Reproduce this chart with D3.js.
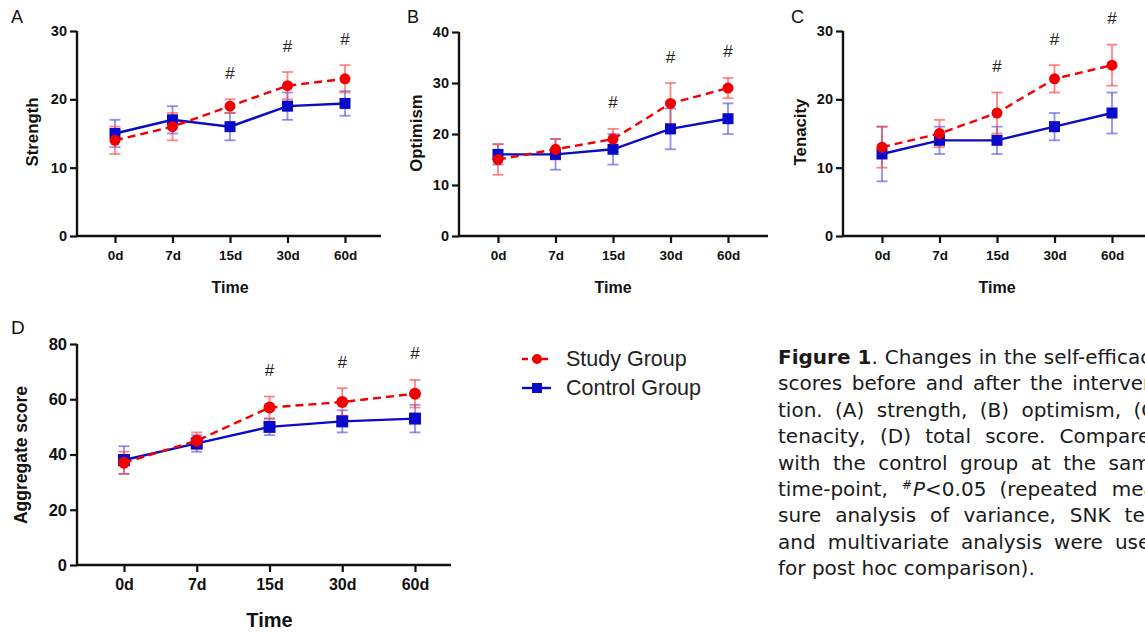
<!DOCTYPE html>
<html>
<head>
<meta charset="utf-8">
<script src="https://cdn.jsdelivr.net/npm/d3@7"></script>
<style>
  html, body { margin: 0; padding: 0; background: #fff; }
  svg { display: block; }
</style>
</head>
<body>
<svg id="chart" width="1145" height="632"></svg>
<script>
// ---------------- DATA ----------------
const times = ["0d", "7d", "15d", "30d", "60d"];
const seriesNames = ["Study Group", "Control Group"];

const strengthStudy = [14, 16, 19, 22, 23];
const strengthStudyErr = [2, 2, 1, 2, 2];
const strengthControl = [15, 17, 16, 19, 19.4];
const strengthControlErr = [2, 2, 2, 2, 1.8];

const optimismStudy = [15, 17, 19, 26, 29];
const optimismStudyErr = [3, 2, 2, 4, 2];
const optimismControl = [16, 16, 17, 21, 23];
const optimismControlErr = [2, 3, 3, 4, 3];

const tenacityStudy = [13, 15, 18, 23, 25];
const tenacityStudyErr = [3, 2, 3, 2, 3];
const tenacityControl = [12, 14, 14, 16, 18];
const tenacityControlErr = [4, 2, 2, 2, 3];

const aggregateStudy = [37, 45, 57, 59, 62];
const aggregateStudyErr = [4, 3, 4, 5, 5];
const aggregateControl = [38, 44, 50, 52, 53];
const aggregateControlErr = [5, 3, 3, 4, 5];

const significant = [false, false, true, true, true];

const ticksStrength = [0, 10, 20, 30];
const ticksOptimism = [0, 10, 20, 30, 40];
const ticksTenacity = [0, 10, 20, 30];
const ticksAggregate = [0, 20, 40, 60, 80];

const captionLines = [
  "Changes in the self-efficacy",
  "scores before and after the interven-",
  "tion. (A) strength, (B) optimism, (C)",
  "tenacity, (D) total score. Compared",
  "with the control group at the same",
  "time-point, #P<0.05 (repeated mea-",
  "sure analysis of variance, SNK test",
  "and multivariate analysis were used",
  "for post hoc comparison)."
];

// ---------------- STYLE / LAYOUT ----------------
const RED = "#f20000";
const BLUE = "#0a0ac8";
const RED_ERR = "rgba(255,70,70,0.65)";
const BLUE_ERR = "rgba(70,70,225,0.6)";
const FONT = "'Liberation Sans', Arial, sans-serif";
const CAP_FONT = "'DejaVu Sans', sans-serif";

const svg = d3.select("#chart");

const panels = [
  { letter: "A", title: "Strength", study: strengthStudy, studyErr: strengthStudyErr,
    control: strengthControl, controlErr: strengthControlErr, ticks: ticksStrength,
    ax: 77, x0: 115, x1: 345, xend: 381, top: 31, bottom: 236,
    letterX: 11, letterY: 23, titleX: 32, titleY: 132, big: false },
  { letter: "B", title: "Optimism", study: optimismStudy, studyErr: optimismStudyErr,
    control: optimismControl, controlErr: optimismControlErr, ticks: ticksOptimism,
    ax: 459, x0: 498, x1: 728, xend: 768, top: 32, bottom: 236,
    letterX: 407, letterY: 23, titleX: 416, titleY: 133, big: false },
  { letter: "C", title: "Tenacity", study: tenacityStudy, studyErr: tenacityStudyErr,
    control: tenacityControl, controlErr: tenacityControlErr, ticks: ticksTenacity,
    ax: 843, x0: 882, x1: 1112, xend: 1150, top: 31, bottom: 236,
    letterX: 791, letterY: 23, titleX: 800, titleY: 132, big: false },
  { letter: "D", title: "Aggregate score", study: aggregateStudy, studyErr: aggregateStudyErr,
    control: aggregateControl, controlErr: aggregateControlErr, ticks: ticksAggregate,
    ax: 77, x0: 124, x1: 415, xend: 451, top: 344, bottom: 565,
    letterX: 11, letterY: 334, titleX: 21, titleY: 455, big: true }
];

panels.forEach(p => {
  const g = svg.append("g");
  const x = d3.scalePoint().domain(times).range([p.x0, p.x1]);
  const y = d3.scaleLinear().domain([p.ticks[0], p.ticks[p.ticks.length - 1]]).range([p.bottom, p.top]);

  // panel letter
  g.append("text").attr("x", p.letterX).attr("y", p.letterY)
    .attr("font-family", FONT).attr("font-size", p.big ? 19 : 18).attr("fill", "#111")
    .text(p.letter);

  // y axis
  const ya = g.append("g").attr("transform", `translate(${p.ax},0)`)
    .call(d3.axisLeft(y).tickValues(p.ticks).tickSize(7).tickPadding(3).tickFormat(d3.format("d")));
  // x axis
  const xa = g.append("g").attr("transform", `translate(0,${p.bottom})`)
    .call(d3.axisBottom(x).tickSize(7).tickPadding(7));
  xa.select(".domain").attr("d", `M${p.ax},0H${p.xend}`);
  ya.select(".domain").attr("d", `M0,${p.bottom}V${p.top}`);
  [ya, xa].forEach(a => {
    a.select(".domain").attr("stroke", "#111").attr("stroke-width", 2.4);
    a.selectAll(".tick line").attr("stroke", "#111").attr("stroke-width", 2.2);
    a.selectAll(".tick text").attr("font-family", FONT).attr("font-weight", "bold").attr("fill", "#111");
  });
  ya.selectAll(".tick text").attr("font-size", p.big ? 16.5 : 14.5);
  xa.selectAll(".tick text").attr("font-size", p.big ? 16 : 13.5);

  // axis titles
  g.append("text").attr("x", (p.x0 + p.x1) / 2).attr("y", p.bottom + (p.big ? 62 : 57))
    .attr("text-anchor", "middle").attr("font-family", FONT).attr("font-weight", "bold")
    .attr("font-size", p.big ? 20 : 16).attr("fill", "#111").text("Time");
  g.append("text")
    .attr("transform", `translate(${p.titleX},${p.titleY}) rotate(-90)`)
    .attr("text-anchor", "middle").attr("dominant-baseline", "central")
    .attr("font-family", FONT).attr("font-weight", "bold")
    .attr("font-size", p.big ? 17.5 : 16.8).attr("fill", "#111").text(p.title);

  const series = [
    { vals: p.control, err: p.controlErr, color: BLUE, ecolor: BLUE_ERR, dash: null, shape: "square" },
    { vals: p.study, err: p.studyErr, color: RED, ecolor: RED_ERR, dash: "8,5", shape: "circle" }
  ];

  // error bars first
  series.forEach(s => {
    const eb = g.append("g");
    times.forEach((t, i) => {
      const cx = x(t), yHi = y(s.vals[i] + s.err[i]), yLo = y(s.vals[i] - s.err[i]);
      eb.append("line").attr("x1", cx).attr("x2", cx).attr("y1", yHi).attr("y2", yLo)
        .attr("stroke", s.ecolor).attr("stroke-width", 1.8);
      [yHi, yLo].forEach(yy => eb.append("line").attr("x1", cx - 5.5).attr("x2", cx + 5.5)
        .attr("y1", yy).attr("y2", yy).attr("stroke", s.ecolor).attr("stroke-width", 1.8));
    });
  });

  series.forEach(s => {
    const line = d3.line().x((d, i) => x(times[i])).y(d => y(d));
    g.append("path").datum(s.vals).attr("d", line).attr("fill", "none")
      .attr("stroke", s.color).attr("stroke-width", 2.4)
      .attr("stroke-dasharray", s.dash);
    s.vals.forEach((v, i) => {
      if (s.shape === "circle") {
        g.append("circle").attr("cx", x(times[i])).attr("cy", y(v)).attr("r", p.big ? 6 : 5.5)
          .attr("fill", s.color);
      } else {
        const h = p.big ? 6 : 5.5;
        g.append("rect").attr("x", x(times[i]) - h).attr("y", y(v) - h)
          .attr("width", 2 * h).attr("height", 2 * h).attr("fill", s.color);
      }
    });
  });

  // significance marks
  times.forEach((t, i) => {
    if (!significant[i]) return;
    const topVal = Math.max(p.study[i] + p.studyErr[i], p.control[i] + p.controlErr[i]);
    g.append("text").attr("x", x(t)).attr("y", y(topVal) - 26)
      .attr("text-anchor", "middle").attr("dominant-baseline", "central")
      .attr("font-family", FONT).attr("font-size", 17).attr("fill", "#222").text("#");
  });
});

// ---------------- LEGEND ----------------
const legend = svg.append("g");
const legendItems = [
  { name: seriesNames[0], color: RED, dash: "6,4", shape: "circle", y: 359 },
  { name: seriesNames[1], color: BLUE, dash: null, shape: "square", y: 388 }
];
legendItems.forEach(it => {
  legend.append("line").attr("x1", 522).attr("x2", 551).attr("y1", it.y).attr("y2", it.y)
    .attr("stroke", it.color).attr("stroke-width", 2.4).attr("stroke-dasharray", it.dash);
  if (it.shape === "circle") legend.append("circle").attr("cx", 537).attr("cy", it.y).attr("r", 5).attr("fill", it.color);
  else legend.append("rect").attr("x", 532).attr("y", it.y - 5).attr("width", 10).attr("height", 10).attr("fill", it.color);
  legend.append("text").attr("x", 566).attr("y", it.y).attr("dominant-baseline", "central")
    .attr("font-family", FONT).attr("font-size", 21.5).attr("fill", "#222").text(it.name);
});

// ---------------- CAPTION ----------------
const cap = svg.append("g").attr("font-family", CAP_FONT).attr("font-size", 20).attr("fill", "#1a1a1a");
const capLeft = 778, capRight = 1163, capTop = 364, capStep = 26.4;
captionLines.forEach((ln, li) => {
  const words = ln.split(" ");
  const items = [];
  if (li === 0) items.push({ parts: [{ t: "Figure 1", bold: true }, { t: "." }] });
  words.forEach(w => {
    if (w.startsWith("#P")) items.push({ parts: [{ t: "#", sup: true }, { t: "P", italic: true, after: true }, { t: w.slice(2) }] });
    else items.push({ parts: [{ t: w }] });
  });
  const yy = capTop + li * capStep;
  const nodes = items.map(it => {
    const tx = cap.append("text").attr("y", yy);
    it.parts.forEach(pt => {
      const ts = tx.append("tspan").text(pt.t);
      if (pt.bold) ts.attr("font-weight", "bold");
      if (pt.italic) ts.attr("font-style", "italic");
      if (pt.sup) ts.attr("font-size", 12).attr("dy", -7);
      if (pt.after) ts.attr("dy", 7).attr("dx", 1);
    });
    return tx;
  });
  const widths = nodes.map(n => n.node().getComputedTextLength());
  const total = d3.sum(widths);
  const last = li === captionLines.length - 1;
  const gap = last || nodes.length < 2 ? 6.4 : (capRight - capLeft - total) / (nodes.length - 1);
  let cx = capLeft;
  nodes.forEach((n, k) => { n.attr("x", cx); cx += widths[k] + gap; });
});
</script>
</body>
</html>
